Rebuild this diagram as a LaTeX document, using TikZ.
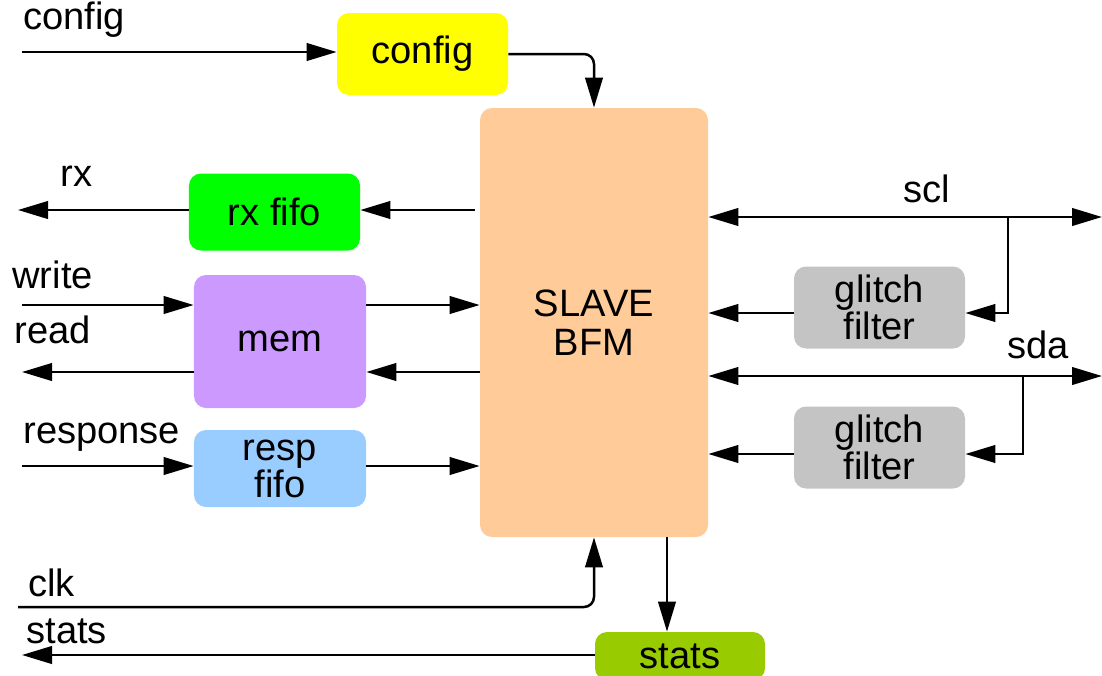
\documentclass[tikz,border=0pt]{standalone}
\usepackage{fontspec}
\setmainfont{Liberation Sans}
\usetikzlibrary{arrows.meta, positioning}
\definecolor{cfgyellow}{HTML}{FFFF00}
\definecolor{bfmorange}{HTML}{FFCC99}
\definecolor{rxgreen}{HTML}{00FF00}
\definecolor{mempurple}{HTML}{CC99FF}
\definecolor{respblue}{HTML}{99CCFF}
\definecolor{glitchgray}{HTML}{C4C4C4}
\definecolor{statsgreen}{HTML}{99CC00}
\tikzset{
  blk/.style={rounded corners=2.4mm, inner sep=0, align=center,
    font=\fontsize{21.7}{21}\selectfont},
  sig/.style={line width=0.5mm, -{Triangle[length=6mm,width=3.5mm]}},
  bisig/.style={line width=0.5mm, {Triangle[length=6mm,width=3.5mm]}-{Triangle[length=6mm,width=3.5mm]}},
  lbl/.style={anchor=base west, inner sep=0, font=\fontsize{21.7}{21}\selectfont}}

\begin{document}
\begin{tikzpicture}[x=0.2mm,y=-0.2mm]
\useasboundingbox (0,0) rectangle (1102,676);
% blocks
\node [blk, fill=bfmorange, minimum width=45.6mm, minimum height=85.8mm,
  font=\fontsize{21.7}{22}\selectfont] (bfm) at (594,322.5) {SLAVE\\BFM};
\node [blk, fill=cfgyellow, minimum width=34.2mm, minimum height=16.4mm] (config) at (422.5,54) {config};
\node [blk, fill=rxgreen, minimum width=34.2mm, minimum height=15.4mm] (rxfifo) at (274.5,212) {rx fifo};
\node [blk, fill=mempurple, minimum width=34.4mm, minimum height=26.6mm] (mem) at (280,341.5) {mem};
\node [blk, fill=respblue, minimum width=34.4mm, minimum height=15.4mm] (resp) at (280,468.5) {resp\\fifo};
\node [blk, fill=glitchgray, minimum width=34.2mm, minimum height=16.4mm] (glitcha) at (879.5,307.5) {glitch\\filter};
\node [blk, fill=glitchgray, minimum width=34.2mm, minimum height=16.4mm] (glitchb) at (879.5,447.5) {glitch\\filter};
\node [blk, fill=statsgreen, minimum width=34mm, minimum height=9.6mm] (stats) at (680,656) {stats};
% port ends
\coordinate (cfgin) at (22,52);
\coordinate (rxout) at (18,210);
\coordinate (wrin) at (22,305);
\coordinate (rdout) at (22,372);
\coordinate (rspin) at (22,466);
\coordinate (sclout) at (1102,217);
\coordinate (scltap) at (1008,217);
\coordinate (sclf) at (1008,313);
\coordinate (sdaout) at (1102,376);
\coordinate (sdatap) at (1023,376);
\coordinate (sdaf) at (1023,454);
\coordinate (clkin) at (18,607);
\coordinate (stout) at (22,655);
\coordinate (stin) at ([xshift=-2.6mm]stats.north);
% signals
\draw [sig] (cfgin) -- (config.west |- cfgin);
\draw [sig, rounded corners=2mm] (config.east) -| (bfm.north);
\draw [sig] ([xshift=-1mm]bfm.west |- rxout) -- (rxfifo.east |- rxout);
\draw [sig] (rxfifo.west |- rxout) -- (rxout);
\draw [sig] (wrin) -- (mem.west |- wrin);
\draw [sig] (mem.east |- wrin) -- (bfm.west |- wrin);
\draw [sig] (bfm.west |- rdout) -- (mem.east |- rdout);
\draw [sig] (mem.west |- rdout) -- (rdout);
\draw [sig] (rspin) -- (resp.west |- rspin);
\draw [sig] (resp.east |- rspin) -- (bfm.west |- rspin);
\draw [bisig] (bfm.east |- sclout) -- (sclout);
\draw [sig] (scltap) -- (sclf) -- (glitcha.east |- sclf);
\draw [sig] (glitcha.west |- sclf) -- (bfm.east |- sclf);
\draw [bisig] (bfm.east |- sdaout) -- (sdaout);
\draw [sig] (sdatap) -- (sdaf) -- (glitchb.east |- sdaf);
\draw [sig] (glitchb.west |- sdaf) -- (bfm.east |- sdaf);
\draw [sig, rounded corners=2mm] (clkin) -| (bfm.south);
\draw [sig] (stin |- bfm.south) -- (stin);
\draw [sig] (stats.west |- stout) -- (stout);
% labels
\node [lbl] (lcfg) at (23,29) {config};
\node [lbl] (lrx) at (60,186) {rx};
\node [lbl] (lwr) at (12,288) {write};
\node [lbl] (lrd) at (14,343) {read};
\node [lbl] (lrsp) at (23,443) {response};
\node [lbl] (lscl) at (903,202) {scl};
\node [lbl] (lsda) at (1007,358) {sda};
\node [lbl] (lclk) at (28,596) {clk};
\node [lbl] (lst) at (26,643) {stats};
\end{tikzpicture}
\end{document}
